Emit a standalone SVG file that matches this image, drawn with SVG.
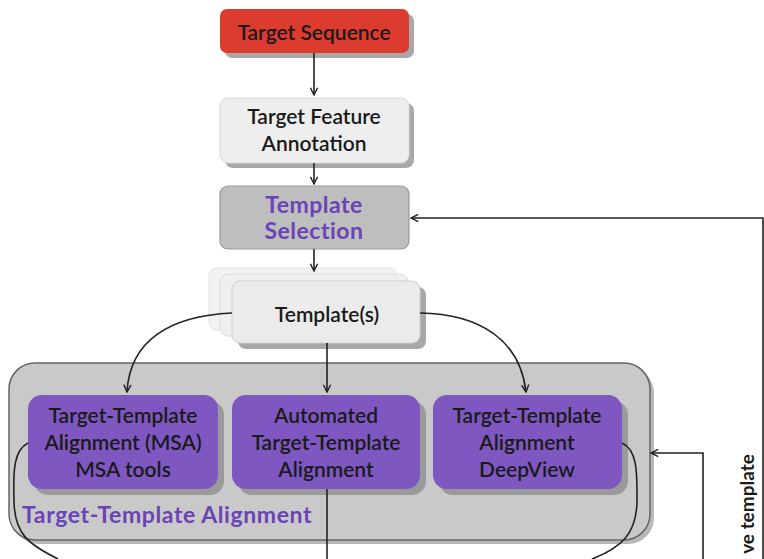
<svg xmlns="http://www.w3.org/2000/svg" width="764" height="559" viewBox="0 0 764 559">
<defs>
<style>
text{font-family:Lato,"Liberation Sans",sans-serif;font-size:21px;fill:#1a1a1a;text-anchor:middle;font-weight:600}
.pt{fill:#6a44b6;font-weight:700;font-size:23px;letter-spacing:0.5px}
.sh{fill:#a8a8a8}
.ln{fill:none;stroke:#222;stroke-width:1.6}
</style>
<marker id="ah" viewBox="0 0 10 10" refX="9" refY="5" markerWidth="9" markerHeight="9" markerUnits="userSpaceOnUse" orient="auto">
<path d="M1,1 L9,5 L1,9" fill="none" stroke="#222" stroke-width="1.6"/>
</marker>
</defs>
<rect width="764" height="559" fill="#fff"/>

<g id="container">
<rect x="13" y="367" width="641" height="177" rx="26" fill="#b8b8b8"/>
<rect x="9" y="363" width="641" height="177" rx="26" fill="#c9c9c9" stroke="#666" stroke-width="1.5"/>
<text x="22" y="523" class="pt" style="text-anchor:start;letter-spacing:0.6px">Target-Template Alignment</text>
</g>

<g id="target-sequence">
<rect x="225" y="14" width="189" height="44" rx="7" class="sh"/>
<rect x="220" y="9" width="189" height="44" rx="7" fill="#dc3b30"/>
<text x="314" y="40">Target Sequence</text>
</g>

<g id="target-feature">
<rect x="225" y="103" width="189" height="65" rx="8" class="sh"/>
<rect x="220" y="98" width="189" height="65" rx="8" fill="#eeeeee" stroke="#d8d8d8"/>
<text x="314" y="124">Target Feature</text>
<text x="314" y="151">Annotation</text>
</g>

<g id="template-selection">
<rect x="220" y="186" width="189" height="63" rx="8" fill="#bebebe" stroke="#999" stroke-width="1.2"/>
<text x="314" y="213" class="pt">Template</text>
<text x="314" y="239" class="pt">Selection</text>
</g>

<g id="templates">
<rect x="209" y="268" width="188" height="62" rx="8" fill="#f2f2f2" stroke="#e2e2e2"/>
<rect x="220" y="274" width="188" height="62" rx="8" fill="#efefef" stroke="#dcdcdc"/>
<rect x="238" y="287" width="188" height="62" rx="8" class="sh"/>
<rect x="232" y="281" width="188" height="62" rx="8" fill="#ebebeb" stroke="#d0d0d0"/>
<text x="327" y="322">Template(s)</text>
</g>

<g id="alignment-msa">
<rect x="34" y="401" width="190" height="94" rx="14" fill="#9a9a9a"/>
<rect x="28" y="395" width="190" height="94" rx="14" fill="#7e57c1"/>
<text x="123" y="423">Target-Template</text>
<text x="123" y="450">Alignment (MSA)</text>
<text x="123" y="477">MSA tools</text>
</g>

<g id="alignment-auto">
<rect x="238" y="401" width="188" height="94" rx="14" fill="#9a9a9a"/>
<rect x="232" y="395" width="188" height="94" rx="14" fill="#7e57c1"/>
<text x="326" y="423">Automated</text>
<text x="326" y="450">Target-Template</text>
<text x="326" y="477">Alignment</text>
</g>

<g id="alignment-deepview">
<rect x="439" y="401" width="189" height="94" rx="14" fill="#9a9a9a"/>
<rect x="433" y="395" width="189" height="94" rx="14" fill="#7e57c1"/>
<text x="527" y="423">Target-Template</text>
<text x="527" y="450">Alignment</text>
<text x="527" y="477">DeepView</text>
</g>

<g id="label-improve">
<text x="754" y="504" transform="rotate(-90 754 504)" style="font-size:19px;font-weight:700">ve template</text>
</g>

<g id="connectors">
<path class="ln" d="M314,53 L314,95" marker-end="url(#ah)"/>
<path class="ln" d="M314,163 L314,184" marker-end="url(#ah)"/>
<path class="ln" d="M314,249 L314,271" marker-end="url(#ah)"/>
<path class="ln" d="M232,313 C170,316 130,340 127,392" marker-end="url(#ah)"/>
<path class="ln" d="M327,343 L327,392" marker-end="url(#ah)"/>
<path class="ln" d="M420,313 C480,314 520,340 526,392" marker-end="url(#ah)"/>
<path class="ln" d="M28,443 C14,450 13,470 14,500 C14,535 30,545 58,559"/>
<path class="ln" d="M327,489 L327,559"/>
<path class="ln" d="M622,443 C638,450 637,475 637,500 C637,535 620,548 592,559"/>
<path class="ln" d="M763,559 L763,218 L411,218" marker-end="url(#ah)"/>
<path class="ln" d="M703,559 L703,453 L651,453" marker-end="url(#ah)"/>
</g>
</svg>
